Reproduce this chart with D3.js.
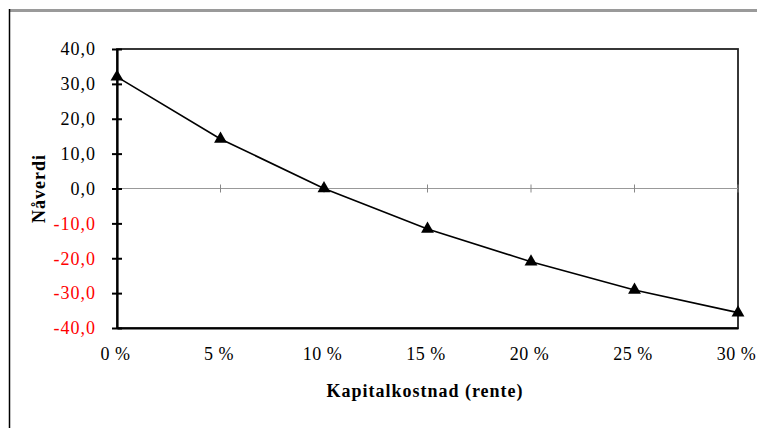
<!DOCTYPE html>
<html>
<head>
<meta charset="utf-8">
<script src="https://cdn.jsdelivr.net/npm/d3@7"></script>
</head>
<body style="margin:0;background:#fff">
<div id="chart"></div>
<script>
'use strict';

// rente (%) og nåverdi
const rates = [0, 5, 10, 15, 20, 25, 30];
const npv = [32.0, 14.2, 0.0, -11.6, -21.0, -29.1, -35.6];
const yTicks = [40, 30, 20, 10, 0, -10, -20, -30, -40];

const width = 757, height = 428;
const plot = { left: 117, top: 49, right: 738, bottom: 328 };
const serif = "'Liberation Serif', 'Times New Roman', serif";

const svg = d3.select('#chart')
    .append('svg')
    .attr('width', width)
    .attr('height', height);

// ytre ramme
svg.append('line')
    .attr('x1', 9).attr('x2', width).attr('y1', 10.5).attr('y2', 10.5)
    .attr('stroke', '#9a9a9a').attr('stroke-width', 3);
svg.append('line')
    .attr('x1', 9.5).attr('x2', 9.5).attr('y1', 9).attr('y2', height)
    .attr('stroke', '#000').attr('stroke-width', 1.5);

const x = d3.scaleLinear().domain([0, 30]).range([plot.left, plot.right]);
const y = d3.scaleLinear().domain([-40, 40]).range([plot.bottom, plot.top]);

// plottramme
svg.append('rect')
    .attr('x', plot.left).attr('y', plot.top)
    .attr('width', plot.right - plot.left).attr('height', plot.bottom - plot.top)
    .attr('fill', 'none').attr('stroke', '#222').attr('stroke-width', 1.8);

// nullinje med små merker
svg.append('line')
    .attr('x1', plot.left).attr('x2', plot.right)
    .attr('y1', y(0)).attr('y2', y(0))
    .attr('stroke', '#999').attr('stroke-width', 1);
svg.selectAll('.xtick')
    .data(rates.slice(1))
    .join('line')
    .attr('x1', d => x(d)).attr('x2', d => x(d))
    .attr('y1', y(0) - 4).attr('y2', y(0) + 4)
    .attr('stroke', '#888').attr('stroke-width', 1);

// y-akse
const yAxis = svg.append('g')
    .attr('transform', `translate(${plot.left},0)`)
    .call(d3.axisLeft(y).tickValues(yTicks).tickSize(0).tickPadding(21)
        .tickFormat(d => d3.format('.1f')(d).replace('.', ',').replace('−', '-')));
yAxis.select('.domain').attr('stroke', '#000').attr('stroke-width', 2.2);
yAxis.selectAll('.tick line').remove();
yAxis.selectAll('.tick').append('line')
    .attr('x1', -5).attr('x2', 5)
    .attr('stroke', '#000').attr('stroke-width', 2);
yAxis.selectAll('.tick text')
    .style('font-family', serif)
    .style('font-size', '18px')
    .style('letter-spacing', '1px')
    .attr('fill', d => d < 0 ? '#ff0000' : '#000');

// x-akse-etiketter
const xAxis = svg.append('g')
    .attr('transform', `translate(0,${plot.bottom})`)
    .call(d3.axisBottom(x).tickValues(rates).tickSize(0).tickPadding(19)
        .tickFormat(d => d + ' %'));
xAxis.select('.domain').attr('stroke', '#000').attr('stroke-width', 2.2);
xAxis.selectAll('.tick text')
    .attr('dx', -2)
    .style('font-family', serif)
    .style('font-size', '18px')
    .style('letter-spacing', '0.5px')
    .attr('fill', '#000');

// linje
const line = d3.line()
    .x((d, i) => x(rates[i]))
    .y(d => y(d));
svg.append('path')
    .datum(npv)
    .attr('d', line)
    .attr('fill', 'none')
    .attr('stroke', '#000')
    .attr('stroke-width', 1.6);

// trekanter
svg.selectAll('.pt')
    .data(npv)
    .join('path')
    .attr('d', d3.symbol().type(d3.symbolTriangle).size(72))
    .attr('transform', (d, i) => `translate(${x(rates[i])},${y(d)})`)
    .attr('fill', '#000');

// aksetitler
svg.append('text')
    .attr('x', 425).attr('y', 397)
    .attr('text-anchor', 'middle')
    .style('font-family', serif)
    .style('font-size', '18px')
    .style('font-weight', 'bold')
    .style('letter-spacing', '1px')
    .text('Kapitalkostnad (rente)');

svg.append('text')
    .attr('transform', `translate(45,${y(0)}) rotate(-90)`)
    .attr('text-anchor', 'middle')
    .style('font-family', serif)
    .style('font-size', '18px')
    .style('font-weight', 'bold')
    .style('letter-spacing', '1px')
    .text('Nåverdi');
</script>
</body>
</html>
